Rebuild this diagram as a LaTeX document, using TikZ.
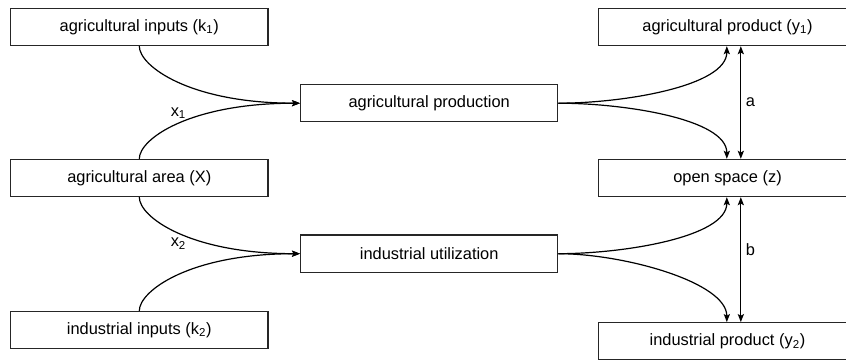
\documentclass[tikz,border=0pt]{standalone}
\usepackage{fontspec}
\setmainfont{Liberation Sans}
\usetikzlibrary{arrows.meta}
\tikzstyle{box} = [rectangle, minimum width=193pt, minimum height=28pt, inner sep=0, text centered, line width=0.8pt, draw=black!85, font=\fontsize{12.3}{15}\selectfont]
\tikzstyle{arrow} = [line width=0.9pt,-{Stealth[length=6pt,width=4.6pt,inset=1.2pt]}]
\tikzstyle{twoway} = [line width=0.9pt,{Stealth[length=6pt,width=4.6pt,inset=1.2pt]}-{Stealth[length=6pt,width=4.6pt,inset=1.2pt]}]
\tikzstyle{lbl} = [font=\fontsize{12.3}{15}\selectfont]

\begin{document}
\begin{tikzpicture}[x=0.75pt,y=0.75pt]
\useasboundingbox (0,0) rectangle (846,360);

% inputs on the left
\node[box] (kone) at (139.3,333) {agricultural inputs (k\textsubscript{1})};
\node[box] (area) at (139.3,182) {agricultural area (X)};
\node[box] (ktwo) at (139.3,30) {industrial inputs (k\textsubscript{2})};

% the two uses of the land
\node[box] (prod) at (429.2,256.8) {agricultural production};
\node[box] (util) at (429.2,106.3) {industrial utilization};

% outputs on the right
\node[box] (yone) at (727.5,333) {agricultural product (y\textsubscript{1})};
\node[box] (z) at (727.5,182) {open space (z)};
\node[box] (ytwo) at (727.5,18.7) {industrial product (y\textsubscript{2})};

\draw[arrow] (kone.south) .. controls +(0,-20) and +(-110,0) .. (prod.west);
\draw[arrow] (area.north) .. controls +(0,20) and +(-110,0) .. (prod.west)
	node[lbl,midway,above] (xone) {x\textsubscript{1}};
\draw[arrow] (area.south) .. controls +(0,-20) and +(-110,0) .. (util.west)
	node[lbl,midway,below] (xtwo) {x\textsubscript{2}};
\draw[arrow] (ktwo.north) .. controls +(0,20) and +(-110,0) .. (util.west);

\draw[arrow] (prod.east) .. controls +(65,0) and +(0,-40) .. ([xshift=-0.5pt]yone.south);
\draw[arrow] (prod.east) .. controls +(65,0) and +(0,40) .. ([xshift=-0.5pt]z.north);
\draw[arrow] (util.east) .. controls +(65,0) and +(0,-40) .. ([xshift=-0.5pt]z.south);
\draw[arrow] (util.east) .. controls +(65,0) and +(0,40) .. ([xshift=-0.5pt]ytwo.north);

\draw[twoway] ([xshift=10pt]yone.south) -- ([xshift=10pt]z.north)
	node[lbl,midway,right] (a) {a};
\draw[twoway] ([xshift=10pt]z.south) -- ([xshift=10pt]ytwo.north)
	node[lbl,pos=0.42,right] (b) {b};
\end{tikzpicture}
\end{document}
